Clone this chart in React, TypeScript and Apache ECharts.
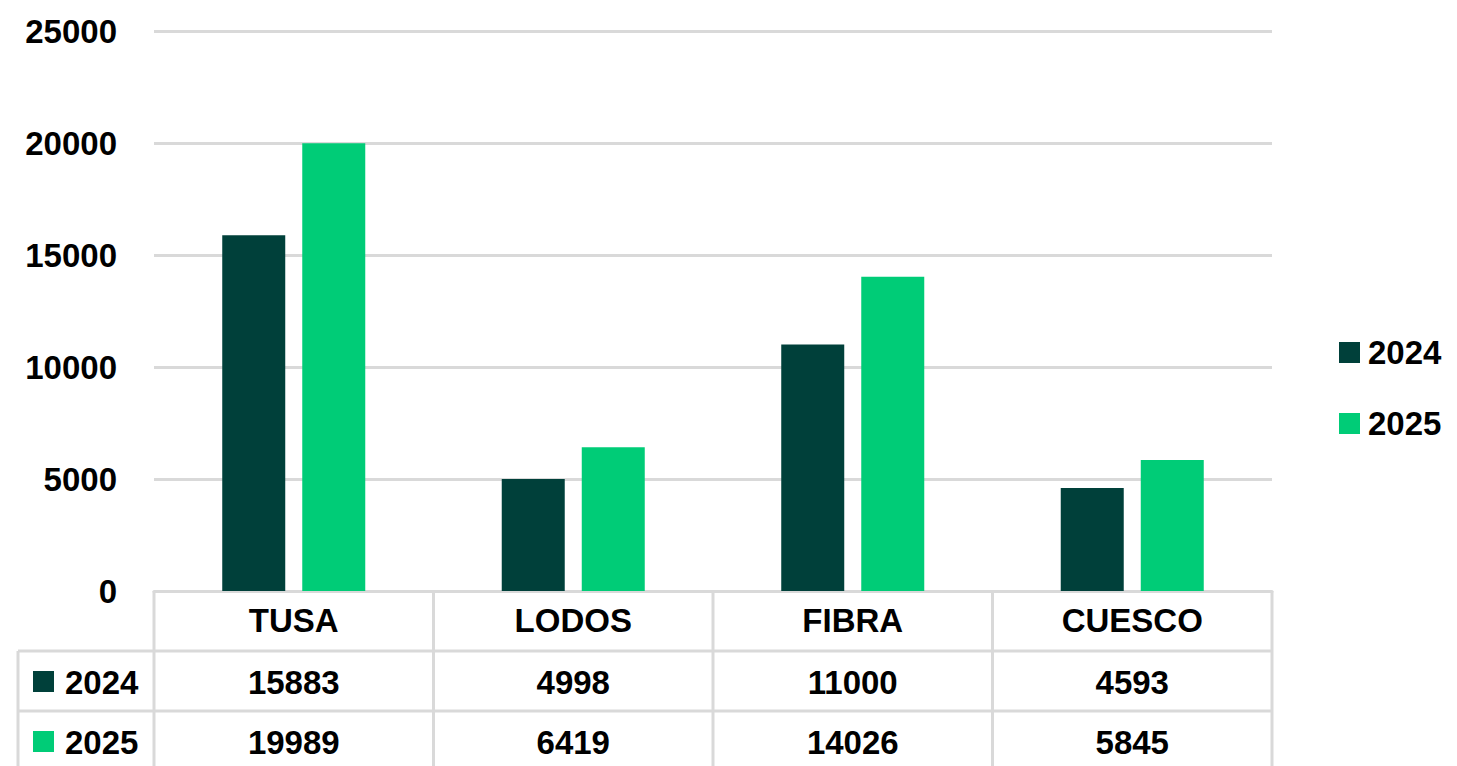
import React, { useEffect, useRef } from "react";
import * as echarts from "echarts";

const categories = ["TUSA", "LODOS", "FIBRA", "CUESCO"];
const seriesNames = ["2024", "2025"];
const values2024 = [15883, 4998, 11000, 4593];
const values2025 = [19989, 6419, 14026, 5845];
const seriesColors = ["#00403A", "#00CC77"];

const W = 1457;
const H = 766;
const GL = 154;
const GR = 1272;
const GT = 31;
const GB = 591;
const ROW = 60;
const TABLE_LEFT = 18;
const LINE = "#D9D9D9";
const FONT = "'Liberation Sans', Arial, sans-serif";
const FS = 33;

export default function App() {
  const ref = useRef<HTMLDivElement>(null);
  useEffect(() => {
    if (!ref.current) return;
    const chart = echarts.init(ref.current, undefined, { renderer: "svg" });
    const catW = (GR - GL) / categories.length;
    const graphic: any[] = [];
    for (let i = 0; i <= categories.length; i++) {
      const x = GL + i * catW;
      graphic.push({
        type: "line",
        shape: { x1: x, y1: GB, x2: x, y2: H + 10 },
        style: { stroke: LINE, lineWidth: 3 },
        silent: true,
      });
    }
    for (let r = 1; r <= 2; r++) {
      const y = GB + r * ROW;
      graphic.push({
        type: "line",
        shape: { x1: TABLE_LEFT, y1: y, x2: GR, y2: y },
        style: { stroke: LINE, lineWidth: 3 },
        silent: true,
      });
    }
    graphic.push({
      type: "line",
      shape: { x1: TABLE_LEFT, y1: GB + ROW, x2: TABLE_LEFT, y2: H + 10 },
      style: { stroke: LINE, lineWidth: 3 },
      silent: true,
    });
    const rows = [values2024, values2025];
    rows.forEach((vals, r) => {
      const yc = GB + ROW * (r + 1) + ROW / 2;
      graphic.push({
        type: "rect",
        shape: { x: 33, y: yc - 10, width: 21, height: 21 },
        style: { fill: seriesColors[r] },
      });
      graphic.push({
        type: "text",
        x: 65,
        y: yc + 1,
        style: {
          text: seriesNames[r],
          font: `bold ${FS}px ${FONT}`,
          fill: "#000",
          textAlign: "left",
          textVerticalAlign: "middle",
        },
      });
      vals.forEach((v, i) => {
        graphic.push({
          type: "text",
          x: GL + catW * (i + 0.5),
          y: yc + 1,
          style: {
            text: String(v),
            font: `bold ${FS}px ${FONT}`,
            fill: "#000",
            textAlign: "center",
            textVerticalAlign: "middle",
          },
        });
      });
    });

    chart.setOption({
      animation: false,
      backgroundColor: "#fff",
      grid: { left: GL, right: W - GR, top: GT, bottom: H - GB },
      legend: {
        orient: "vertical",
        left: 1339,
        top: 336,
        padding: 0,
        itemWidth: 21,
        itemHeight: 21,
        itemGap: 38,
        icon: "rect",
        textStyle: { fontFamily: FONT, fontWeight: "bold", fontSize: FS, color: "#000", padding: [0, 0, 0, 3] },
        data: seriesNames,
      },
      xAxis: {
        type: "category",
        data: categories,
        axisLine: { show: true, lineStyle: { color: LINE, width: 3 } },
        axisTick: { show: false },
        axisLabel: {
          margin: 13,
          fontFamily: FONT,
          fontWeight: "bold",
          fontSize: FS,
          color: "#000",
        },
      },
      yAxis: {
        type: "value",
        min: 0,
        max: 25000,
        interval: 5000,
        axisLine: { show: false },
        axisTick: { show: false },
        splitLine: { lineStyle: { color: LINE, width: 3 } },
        axisLabel: {
          margin: 37,
          fontFamily: FONT,
          fontWeight: "bold",
          fontSize: FS,
          color: "#000",
          formatter: (v: number) => String(v),
        },
      },
      series: [
        {
          name: seriesNames[0],
          type: "bar",
          data: values2024,
          itemStyle: { color: seriesColors[0] },
          barWidth: 63,
          barGap: "27%",
        },
        {
          name: seriesNames[1],
          type: "bar",
          data: values2025,
          itemStyle: { color: seriesColors[1] },
          barWidth: 63,
          barGap: "27%",
        },
      ],
      graphic,
    });
    return () => chart.dispose();
  }, []);
  return (
    <div
      ref={ref}
      style={{ position: "fixed", left: 0, top: 0, width: W, height: H }}
    />
  );
}
